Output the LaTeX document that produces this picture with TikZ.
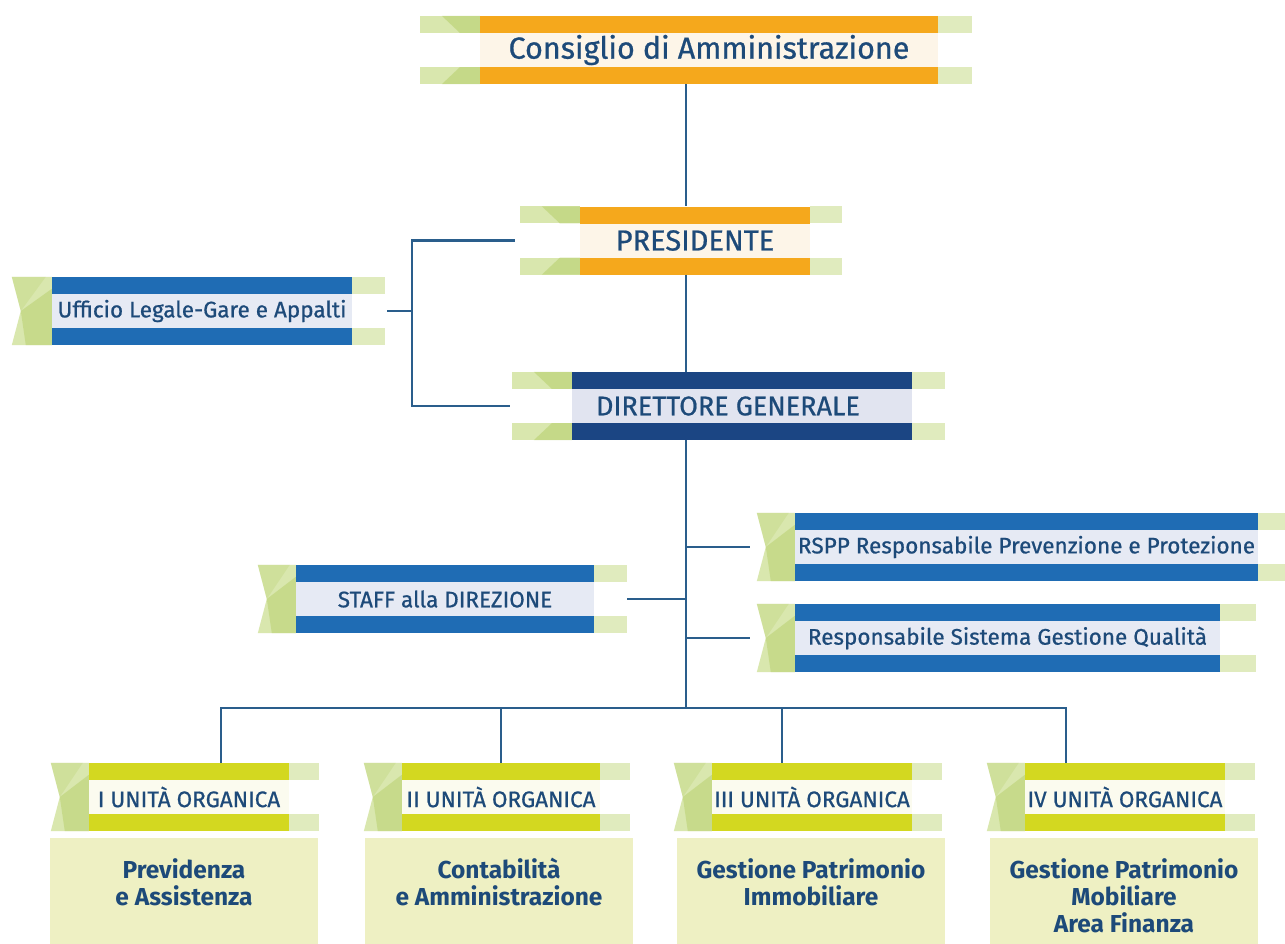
\documentclass[tikz,border=0pt]{standalone}
\usepackage{fontspec}
\setmainfont{Fira Sans}
\newfontfamily\medium{Fira Sans}[FakeBold=0.7]
\usetikzlibrary{positioning}

\definecolor{orng}{HTML}{F5A81C}
\definecolor{crm}{HTML}{FDF5E8}
\definecolor{dnavy}{HTML}{1B4583}
\definecolor{lav}{HTML}{E1E4F0}
\definecolor{blu}{HTML}{1F6CB4}
\definecolor{pale}{HTML}{E6EAF4}
\definecolor{lime}{HTML}{D3D820}
\definecolor{ivory}{HTML}{FBFBEF}
\definecolor{sand}{HTML}{EEF0C3}
\definecolor{gl}{HTML}{D9E7AE}
\definecolor{gd}{HTML}{B9D170}
\definecolor{txt}{HTML}{1D4A79}
\definecolor{lin}{HTML}{2A5E8C}

% left end of the three top ribbons: green only in the bars
\newcommand{\barend}[2]{%
  \fill[gl] ([xshift=-#2pt]#1.north west) rectangle ([yshift=-17pt]#1.north west);
  \fill[gl] ([xshift=-#2pt]#1.south west) rectangle ([yshift=17pt]#1.south west);
  \fill[gd, opacity=.6] ([xshift=-38pt]#1.north west) -- (#1.north west)
    -- ([yshift=-17pt]#1.north west) -- ([xshift=-20pt,yshift=-17pt]#1.north west) -- cycle;
  \fill[gd, opacity=.6] ([xshift=-20pt,yshift=17pt]#1.south west) -- ([yshift=17pt]#1.south west)
    -- (#1.south west) -- ([xshift=-38pt]#1.south west) -- cycle;
}
% folded left end of the other ribbons
\newcommand{\foldend}[2]{%
  \fill[gl] (#1.north west) -- ([xshift=-#2pt]#1.north west) -- ([xshift=-#2pt+9pt]#1.west)
    -- ([xshift=-#2pt]#1.south west) -- (#1.south west) -- cycle;
  \fill[gd, opacity=.55] ([xshift=-#2pt+9pt]#1.west) -- ([yshift=-12pt]#1.north west)
    -- (#1.south west) -- ([xshift=-#2pt+14pt]#1.south west) -- cycle;
  \fill[gd, opacity=.3] ([xshift=-#2pt]#1.north west) -- ([xshift=-6pt]#1.north west)
    -- ([xshift=-#2pt+9pt]#1.west) -- cycle;
}
% pale bar ends on the right
\newcommand{\rightend}[2]{%
  \fill[gl, opacity=.8] (#1.north east) rectangle ([xshift=#2pt,yshift=-17pt]#1.north east);
  \fill[gl, opacity=.8] (#1.south east) rectangle ([xshift=#2pt,yshift=17pt]#1.south east);
}

\begin{document}
\begin{tikzpicture}[
    x=1pt, y=-1pt,
    rib/.style 2 args={inner sep=0pt, minimum height=68pt, fill=#2, text=txt,
      path picture={
        \fill[#1] (path picture bounding box.north west) rectangle ([yshift=-17pt]path picture bounding box.north east);
        \fill[#1] (path picture bounding box.south west) rectangle ([yshift=17pt]path picture bounding box.south east);}},
    big/.style={font=\medium\fontsize{30.5}{35}\selectfont},
    mid/.style={font=\medium\fontsize{27}{32}\selectfont},
    sml/.style={font=\medium\fontsize{22.5}{26}\selectfont},
    cbox/.style={fill=sand, inner sep=0pt, minimum width=268pt, minimum height=130pt, anchor=north},
    ctxt/.style={anchor=north, align=center, text=txt, inner sep=0pt,
      font=\bfseries\fontsize{24.5}{27}\selectfont},
    conn/.style={draw=lin, line width=2.6pt},
  ]
  \useasboundingbox (0,0) rectangle (1285,943);
  \fill[white] (0,0) rectangle (1285,943);
  \clip (0,0) rectangle (1285,943);

  \coordinate (spine) at (686,0);
  \coordinate (brk) at (412,0);
  \coordinate (bus) at (686,708);

  % top
  \node[rib={orng}{crm}, big, minimum width=458pt] (cda) at (709,50) {Consiglio di Amministrazione};
  \node[rib={orng}{crm}, mid, font=\medium\fontsize{29}{34}\selectfont, minimum width=230pt] (pres) at (695,240.5) {PRESIDENTE};
  \node[rib={dnavy}{lav}, mid, minimum width=340pt] (dg) at (742,406) {DIRETTORE GENERALE\hspace*{28pt}};
  \barend{cda}{60} \rightend{cda}{34}
  \barend{pres}{60} \rightend{pres}{32}
  \barend{dg}{60} \rightend{dg}{33}

  % staff
  \node[rib={blu}{pale}, sml, minimum width=300pt] (leg) at (202,311) {Ufficio Legale-Gare e Appalti};
  \node[rib={blu}{pale}, sml, minimum width=463pt] (rspp) at (1026.5,547) {RSPP Responsabile Prevenzione e Protezione};
  \node[rib={blu}{pale}, sml, minimum width=298pt] (stf) at (445,599) {STAFF alla DIREZIONE};
  \node[rib={blu}{pale}, sml, minimum width=425pt] (qual) at (1007.5,638) {Responsabile Sistema Gestione Qualità};
  \foldend{leg}{40} \rightend{leg}{33}
  \foldend{rspp}{38} \rightend{rspp}{27}
  \foldend{stf}{38} \rightend{stf}{33}
  \foldend{qual}{38} \rightend{qual}{36}

  % unita' organiche
  \node[rib={lime}{ivory}, sml, minimum width=200pt] (u1) at (189,797) {I UNITÀ ORGANICA};
  \node[rib={lime}{ivory}, sml, minimum width=198pt] (u2) at (501,797) {II UNITÀ ORGANICA};
  \node[rib={lime}{ivory}, sml, minimum width=200pt] (u3) at (812,797) {III UNITÀ ORGANICA};
  \node[rib={lime}{ivory}, sml, minimum width=200pt] (u4) at (1125,797) {IV UNITÀ ORGANICA};
  \foreach \u in {u1,u2,u3,u4} {\foldend{\u}{38} \rightend{\u}{30}}

  \node[cbox] (a1) at (184,838) {};
  \node[cbox] (a2) at (499,838) {};
  \node[cbox] (a3) at (811,838) {};
  \node[cbox] (a4) at (1124,838) {};
  \node[ctxt, below=20pt of a1.north] (t1) {Previdenza\\e Assistenza};
  \node[ctxt, below=20pt of a2.north] (t2) {Contabilità\\e Amministrazione};
  \node[ctxt, below=20pt of a3.north] (t3) {Gestione Patrimonio\\Immobiliare};
  \node[ctxt, below=20pt of a4.north] (t4) {Gestione Patrimonio\\Mobiliare\\Area Finanza};

  % connectors
  \draw[conn] (cda.south -| spine) -- (pres.north -| spine);
  \draw[conn] (pres.south -| spine) -- (dg.north -| spine);
  \draw[conn] (dg.south -| spine) -- (bus);
  \draw[conn] ([xshift=-65pt]pres.west) -| (brk |- dg.west) -- ([xshift=-62pt]dg.west);
  \draw[conn] ([xshift=35pt]leg.east) -- (brk |- leg.east);
  \draw[conn] (spine |- rspp.west) -- ([xshift=-45pt]rspp.west);
  \draw[conn] ([xshift=33pt]stf.east) -- (spine |- stf.east);
  \draw[conn] (spine |- qual.west) -- ([xshift=-45pt]qual.west);
  \draw[conn] ([xshift=32pt]u1.north) |- (bus) -| ([xshift=-59pt]u4.north);
  \draw[conn] (u2.north) -- (u2.north |- bus);
  \draw[conn] ([xshift=-30pt]u3.north) -- ([xshift=-30pt]u3.north |- bus);
\end{tikzpicture}
\end{document}
